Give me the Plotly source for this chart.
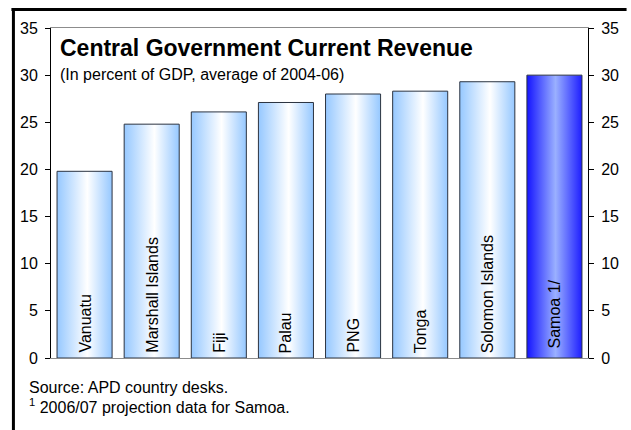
import plotly.graph_objects as go

# Central government current revenue, percent of GDP (2004-06 average)
countries = ["Vanuatu", "Marshall Islands", "Fiji", "Palau", "PNG",
             "Tonga", "Solomon Islands", "\u00a0Samoa 1/"]
revenue = [19.8, 24.8, 26.1, 27.1, 28.0, 28.3, 29.3, 30.0]
highlight = [False, False, False, False, False, False, False, True]

y_ticks = [0, 5, 10, 15, 20, 25, 30, 35]

title_text = "Central Government Current Revenue"
subtitle_text = "(In percent of GDP, average of 2004-06)"
source_text = "Source: APD country desks."
note_text = "<sup>1</sup> 2006/07 projection data for Samoa."

# Figure geometry (pixels)
W, H = 631, 430
L, R, T, B = 51, 594, 28, 358
FONT = "Liberation Sans, Arial, sans-serif"

light_scale = [[0.0, "#96C8FF"], [0.55, "#FFFFFF"], [1.0, "#96C8FF"]]
dark_scale = [[0.0, "#1414FF"], [0.52, "#9AB0FF"], [1.0, "#1E1EFF"]]
half_w = 0.41


def px_x(p):
    return (p - L) / (R - L)


def px_y(p):
    return (B - p) / (B - T)


fig = go.Figure()

for i, (name, val, hl) in enumerate(zip(countries, revenue, highlight)):
    fig.add_trace(go.Scatter(
        x=[i - half_w, i - half_w, i + half_w, i + half_w, i - half_w],
        y=[0, val, val, 0, 0],
        mode="lines",
        fill="toself",
        fillgradient=dict(type="horizontal",
                          colorscale=dark_scale if hl else light_scale),
        line=dict(color="#2B3340", width=1),
        hoverinfo="skip",
        showlegend=False,
    ))
    fig.add_annotation(
        x=i, y=0, xref="x", yref="y",
        text=name, textangle=-90,
        xanchor="center", yanchor="bottom", yshift=3,
        showarrow=False,
        font=dict(family=FONT, size=16, color="black"),
    )

# invisible trace so the right-hand axis is drawn
fig.add_trace(go.Scatter(x=[0], y=[0], yaxis="y2", mode="markers",
                         marker=dict(opacity=0), hoverinfo="skip",
                         showlegend=False))

axis_common = dict(
    range=[0, 35], tickvals=y_ticks, ticks="outside", ticklen=5,
    tickcolor="black", showline=True, linecolor="black", linewidth=1,
    showgrid=False, zeroline=False, ticklabelstandoff=4,
    tickfont=dict(family=FONT, size=16, color="black"),
)

fig.update_layout(
    width=W, height=H,
    margin=dict(l=L, r=W - R, t=T, b=H - B, pad=0),
    paper_bgcolor="white", plot_bgcolor="white",
    xaxis=dict(range=[-0.5, len(countries) - 0.5], showticklabels=False,
               ticks="", showgrid=False, zeroline=False, showline=True,
               mirror=True, linecolor="#8C8C8C", linewidth=1),
    yaxis=dict(side="left", **axis_common),
    yaxis2=dict(side="right", overlaying="y", **axis_common),
    showlegend=False,
)

texts = [
    (title_text, 58, 58, 23, True),
    (subtitle_text, 58, 81, 16, False),
    (source_text, 27, 394, 16, False),
    (note_text, 27, 414, 16, False),
]
for txt, x0, base, size, bold in texts:
    fig.add_annotation(
        x=px_x(x0), y=px_y(base), xref="paper", yref="paper",
        text=f"<b>{txt}</b>" if bold else txt,
        xanchor="left", yanchor="bottom", yshift=-size * 0.22,
        showarrow=False, align="left",
        font=dict(family=FONT, size=size, color="black"),
    )

# outer frame: top and left borders
fig.add_shape(type="line", xref="paper", yref="paper",
              x0=px_x(11), x1=px_x(W + 2), y0=px_y(9.5), y1=px_y(9.5),
              line=dict(color="black", width=3))
fig.add_shape(type="line", xref="paper", yref="paper",
              x0=px_x(13), x1=px_x(13), y0=px_y(8), y1=px_y(H + 2),
              line=dict(color="black", width=3))

fig.write_html("out.html")
